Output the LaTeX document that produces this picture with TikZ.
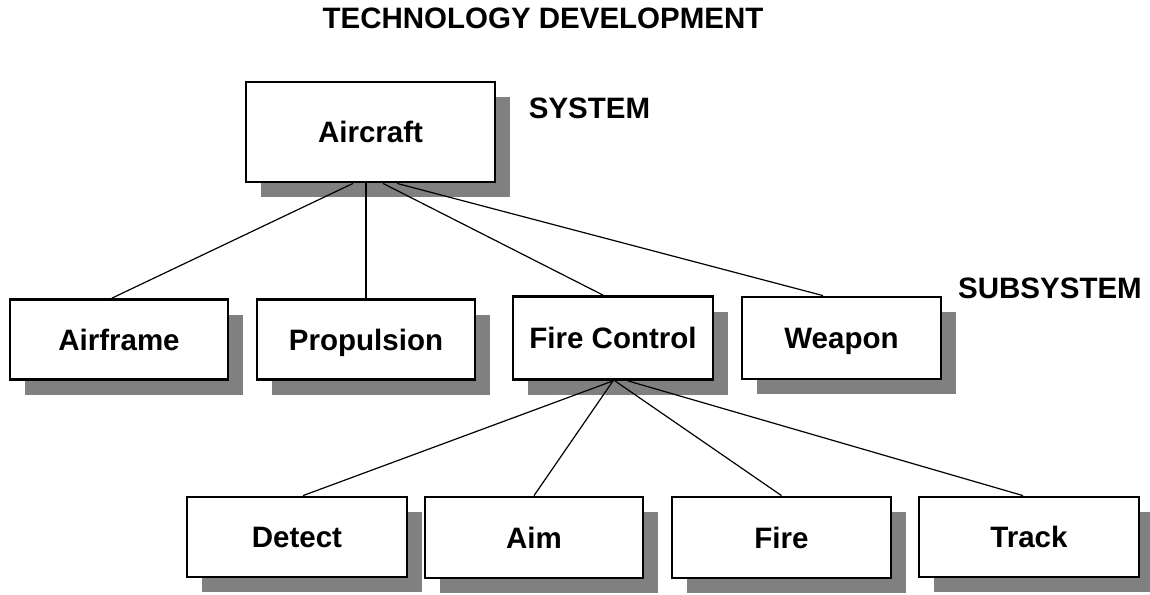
\documentclass[tikz,border=0pt]{standalone}
\usepackage{fontspec}
\setmainfont{Liberation Sans}
\usetikzlibrary{shadows}

\begin{document}
\begin{tikzpicture}[x=1pt,y=1pt,
  box/.style={draw=black, line width=2.8pt, fill=white, rectangle, inner sep=0pt,
    text height=21pt, text depth=0pt,
    drop shadow={shadow xshift=15pt, shadow yshift=-15pt, fill=black!50, opacity=1}},
  heading/.style={inner sep=0pt, text height=21pt, text depth=0pt},
  link/.style={draw=black, line width=1.2pt}]
\tikzstyle{every node}+=[font=\fontsize{29.5}{34}\selectfont\bfseries]
\useasboundingbox (0,0) rectangle (1150,-594);
\node [heading] (title) at (543,-18) {TECHNOLOGY DEVELOPMENT};
\node [heading] (lsystem) at (589.5,-108) {SYSTEM};
\node [heading] (lsubsystem) at (1050,-288) {SUBSYSTEM};
\node [box, minimum width=249pt, minimum height=100pt] (aircraft) at (370.5,-132) {Aircraft};
\node [box, minimum width=218pt, minimum height=80pt] (airframe) at (119,-339.5) {Airframe};
\node [box, minimum width=218pt, minimum height=80pt] (propulsion) at (366,-339.5) {Propulsion};
\node [box, minimum width=200pt, minimum height=83pt] (firecontrol) at (613,-338) {Fire Control};
\node [box, minimum width=199pt, minimum height=82pt] (weapon) at (841.5,-338) {Weapon};
\node [box, minimum width=220pt, minimum height=80pt] (detect) at (297,-537) {Detect};
\node [box, minimum width=218pt, minimum height=81pt] (aim) at (534,-537.5) {Aim};
\node [box, minimum width=219pt, minimum height=81pt] (fire) at (781.5,-537.5) {Fire};
\node [box, minimum width=220pt, minimum height=80pt] (track) at (1029,-537) {Track};
\draw [link] ([xshift=-17.5pt]aircraft.south) -- ([xshift=-7pt]airframe.north);
\draw [link] (propulsion.north |- aircraft.south) -- (propulsion.north);
\draw [link] ([xshift=12.5pt]aircraft.south) -- ([xshift=-10pt]firecontrol.north);
\draw [link] ([xshift=26.5pt]aircraft.south) -- ([xshift=-18.5pt]weapon.north);
\draw [link] (firecontrol.south) -- ([xshift=6pt]detect.north);
\draw [link] (firecontrol.south) -- (aim.north);
\draw [link] ([xshift=2pt]firecontrol.south) -- (fire.north);
\draw [link] ([xshift=15pt]firecontrol.south) -- ([xshift=-6pt]track.north);
\end{tikzpicture}
\end{document}
